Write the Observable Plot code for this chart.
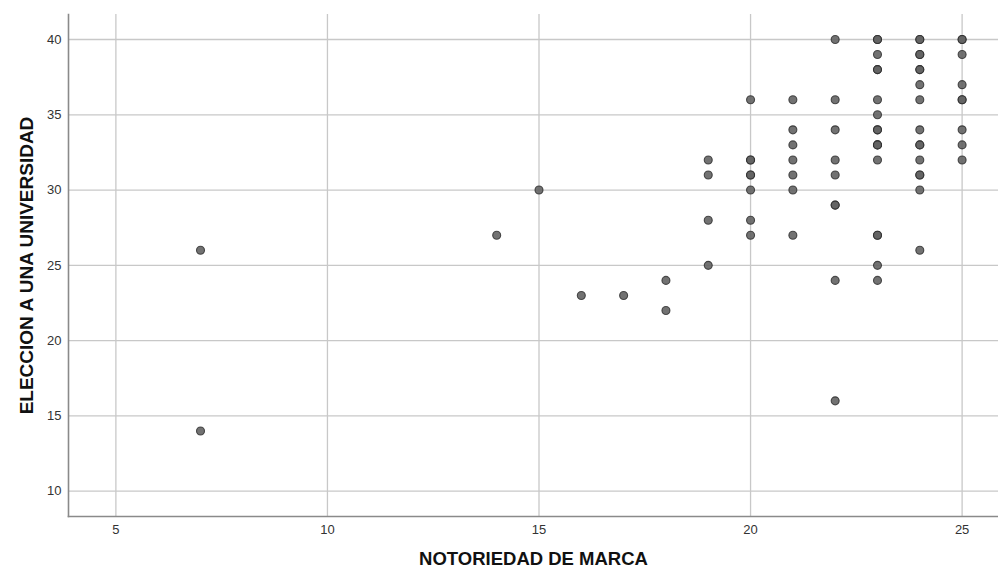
<!DOCTYPE html>
<html>
<head>
<meta charset="utf-8">
<script src="https://cdn.jsdelivr.net/npm/d3@7"></script>
<script src="https://cdn.jsdelivr.net/npm/@observablehq/plot@0.6"></script>
<style>
  html, body { margin: 0; padding: 0; background: #fff; }
  #chart svg { display: block; }
</style>
</head>
<body>
<div id="chart"></div>
<script>
// NOTORIEDAD DE MARCA (x) vs ELECCION A UNA UNIVERSIDAD (y); repeated pairs = overlapping cases
const notoriedad = [
  7, 7,
  14, 15, 16, 17, 18, 18,
  19, 19, 19, 19,
  20, 20, 20, 20, 20, 20, 20, 20,
  21, 21, 21, 21, 21, 21, 21,
  22, 22, 22, 22, 22, 22, 22, 22, 22,
  23, 23, 23, 23, 23, 23, 23, 23, 23, 23, 23, 23, 23, 23, 23, 23, 23,
  24, 24, 24, 24, 24, 24, 24, 24, 24, 24, 24, 24, 24, 24, 24, 24,
  25, 25, 25, 25, 25, 25, 25, 25, 25
];
const eleccion = [
  26, 14,
  27, 30, 23, 23, 24, 22,
  32, 31, 28, 25,
  36, 32, 32, 31, 31, 30, 28, 27,
  36, 34, 33, 32, 31, 30, 27,
  40, 36, 34, 32, 31, 29, 29, 24, 16,
  40, 40, 39, 38, 38, 36, 35, 34, 34, 33, 33, 32, 27, 27, 25, 24, 33,
  40, 40, 39, 38, 38, 37, 36, 34, 33, 33, 32, 31, 31, 30, 26, 39,
  40, 40, 39, 37, 36, 36, 34, 33, 32
];
const xTicks = [5, 10, 15, 20, 25];
const yTicks = [10, 15, 20, 25, 30, 35, 40];
const xDomain = [3.88, 25.86];
const yDomain = [8.32, 41.66];
const xLabel = "NOTORIEDAD DE MARCA";
const yLabel = "ELECCION A UNA UNIVERSIDAD";

const data = notoriedad.map((x, i) => ({x, y: eleccion[i]}));

const chart = Plot.plot({
  width: 998,
  height: 570,
  marginLeft: 68,
  marginRight: 0,
  marginTop: 14,
  marginBottom: 54,
  style: {fontFamily: "'Liberation Sans', Arial, sans-serif", fontSize: "13px", color: "#222", background: "#fff"},
  x: {domain: xDomain},
  y: {domain: yDomain},
  marks: [
    Plot.gridX(xTicks, {stroke: "#c8c8c8", strokeOpacity: 1, strokeWidth: 1.3}),
    Plot.gridY(yTicks, {stroke: "#c8c8c8", strokeOpacity: 1, strokeWidth: 1.3}),
    Plot.frame({anchor: "left", stroke: "#8a8a8a", strokeWidth: 1.6}),
    Plot.frame({anchor: "bottom", stroke: "#8a8a8a", strokeWidth: 1.6}),
    Plot.axisX(xTicks, {tickSize: 0, tickPadding: 8, fill: "#333", fontSize: 13, label: null}),
    Plot.axisY(yTicks, {tickSize: 0, tickPadding: 7, fill: "#333", fontSize: 13, label: null}),
    Plot.text([xLabel], {frameAnchor: "bottom", dy: 43, text: d => d, fontSize: 18.5, fontWeight: "bold", fill: "#111", textAnchor: "middle", lineAnchor: "middle"}),
    Plot.text([yLabel], {frameAnchor: "left", dx: -42, rotate: -90, text: d => d, fontSize: 19, fontWeight: "bold", fill: "#111", textAnchor: "middle", lineAnchor: "middle"}),
    Plot.dot(data, {x: "x", y: "y", r: 4, fill: "#636363", fillOpacity: 0.9, stroke: "#2a2a2a", strokeOpacity: 0.8, strokeWidth: 1.1})
  ]
});
document.getElementById("chart").appendChild(chart);
</script>
</body>
</html>
